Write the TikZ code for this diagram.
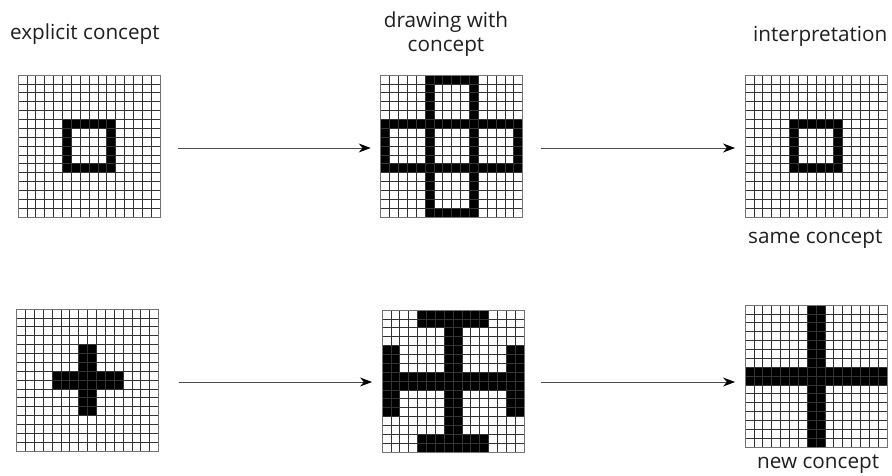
\documentclass[tikz,border=0pt]{standalone}
\usepackage{fontspec}
\setmainfont{Open Sans}
\usetikzlibrary{arrows.meta}
\newcommand\cs{8.875}
\tikzset{
  gridnode/.style={minimum width=142pt,minimum height=142pt,inner sep=0pt,outer sep=0pt},
  gridline/.style={draw=black!80,line width=0.7pt},
  frameline/.style={draw=black!55,line width=0.9pt},
  conn/.style={draw=black!70,line width=0.8pt,-{Stealth[length=12pt,width=9pt,black]}},
  lbl/.style={font=\fontsize{20.7}{24}\selectfont,text=black!88,inner sep=0pt}
}
% fill block of cells: #1 x0, #2 y0, #3 x1, #4 y1 in cell edges
\newcommand\blk[4]{\fill[black] ({(#1)*\cs},{(#2)*\cs}) rectangle ({(#3)*\cs},{(#4)*\cs});}
\newcommand\ringat[2]{%
  \blk{#1}{#2}{#1+6}{#2+1}\blk{#1}{#2+5}{#1+6}{#2+6}%
  \blk{#1}{#2}{#1+1}{#2+6}\blk{#1+5}{#2}{#1+6}{#2+6}}
\newcommand\gridlines{%
  \foreach \i in {1,...,15}{\draw[gridline] (\i*\cs,0) -- (\i*\cs,142);
                            \draw[gridline] (0,\i*\cs) -- (142,\i*\cs);}
  \draw[frameline] (0,0) rectangle (142,142);}
\begin{document}
\begin{tikzpicture}[x=1pt,y=-1pt]
\useasboundingbox (0,0) rectangle (892,476);
% grids
\node[gridnode] (g1) at (89,146) {};
\node[gridnode] (g2) at (451.7,146) {};
\node[gridnode] (g3) at (816,146) {};
\node[gridnode] (g4) at (87.5,380) {};
\node[gridnode] (g5) at (453,381) {};
\node[gridnode] (g6) at (816,376) {};
\begin{scope}[shift={(g1.north west)}]
  \ringat{5}{5}\gridlines
\end{scope}
\begin{scope}[shift={(g2.north west)}]
  \ringat{5}{0}\ringat{0}{5}\ringat{5}{5}\ringat{10}{5}\ringat{5}{10}\gridlines
\end{scope}
\begin{scope}[shift={(g3.north west)}]
  \ringat{5}{5}\gridlines
\end{scope}
\begin{scope}[shift={(g4.north west)}]
  \blk{7}{4}{9}{12}\blk{4}{7}{12}{9}\gridlines
\end{scope}
\begin{scope}[shift={(g5.north west)}]
  \blk{4}{0}{12}{2}\blk{7}{0}{9}{16}\blk{0}{4}{2}{12}\blk{14}{4}{16}{12}
  \blk{0}{7}{16}{9}\blk{4}{14}{12}{16}\gridlines
\end{scope}
\begin{scope}[shift={(g6.north west)}]
  \blk{7}{0}{9}{16}\blk{0}{7}{16}{9}\gridlines
\end{scope}
% connectors
\draw[conn] ([xshift=18pt,yshift=-2pt]g1.east) -- ([xshift=-10pt,yshift=-2pt]g2.west);
\draw[conn] ([xshift=18pt,yshift=-2pt]g2.east) -- ([xshift=-10pt,yshift=-2pt]g3.west);
\draw[conn] ([xshift=20pt,yshift=-2pt]g4.east) -- ([xshift=-10pt,yshift=-1pt]g5.west);
\draw[conn] ([xshift=17pt,yshift=-1pt]g5.east) -- ([xshift=-10pt,yshift=-6pt]g6.west);
% labels
\node[lbl,anchor=base west] (t1) at (10,40) {explicit concept};
\node[lbl,anchor=base,align=center] (t2) at (446,52) {drawing with\\concept};
\node[lbl,anchor=base west] (t3) at (753,42) {interpretation};
\node[lbl,anchor=base west] (t4) at (748,243) {same concept};
\node[lbl,anchor=base west] (t5) at (757,468) {new concept};
\end{tikzpicture}
\end{document}
